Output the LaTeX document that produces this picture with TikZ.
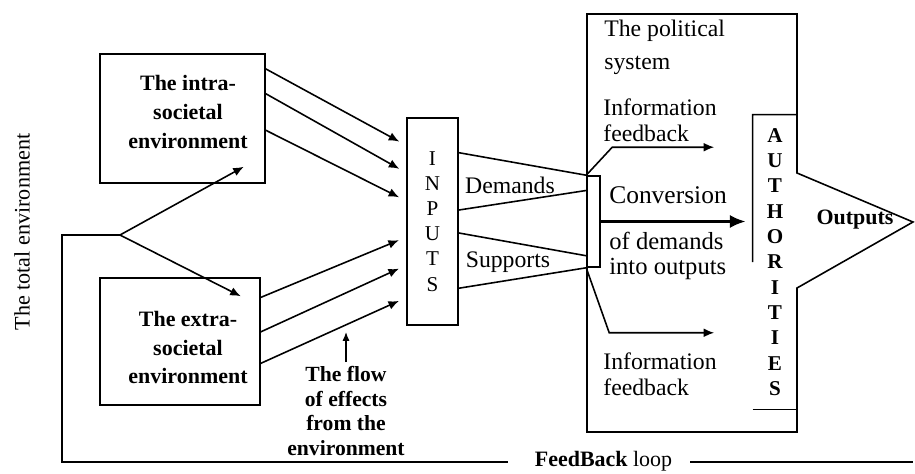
\documentclass[tikz,border=0pt]{standalone}
\usepackage{fontspec}
\setmainfont{Liberation Serif}
\usetikzlibrary{arrows.meta,calc}
\tikzset{
  envbox/.style={draw,line width=0.9pt,inner sep=0pt},
  envtext/.style={align=center,inner sep=0pt,font=\fontsize{12.5}{16.4}\selectfont\bfseries},
  letters/.style={align=center,inner sep=0pt},
  plain/.style={line width=0.9pt},
  effect/.style={line width=0.9pt,-{Latex[length=6pt,width=5pt]}},
  lbl/.style={inner sep=0pt,align=left,font=\fontsize{13.5}{14.8}\selectfont},
}
\begin{document}
\begin{tikzpicture}[x=0.02cm,y=-0.02cm]
\useasboundingbox (0,0) rectangle (915,473);

% Marking the total environment
\node [rotate=90,font=\fontsize{12.6}{14}\selectfont] (total) at (22,232) {The total environment};

% Drawing the two environment boxes
\node [envbox,minimum width=3.3cm,minimum height=2.58cm] (intra) at (182.5,118.5) {};
\node [envtext] (intratext) at (188,112) {The intra-\\societal\\environment};
\node [envbox,minimum width=3.2cm,minimum height=2.54cm] (extra) at (180,341.5) {};
\node [envtext] (extratext) at (188,347.5) {The extra-\\societal\\environment};

% Drawing the inputs box
\node [draw,plain,letters,minimum width=1.02cm,minimum height=4.14cm,font=\fontsize{12}{14.3}\selectfont] (inputs) at (432.5,221.5) {I\\N\\P\\U\\T\\S};

% Drawing flow of effects into the inputs
\foreach \a/\b in {0.12/0.135, 0.31/0.266, 0.59/0.401}
  \draw [effect,shorten >=4.5pt] ($(intra.north east)!\a!(intra.south east)$) -- ($(inputs.north west)!\b!(inputs.south west)$);
\foreach \a/\b in {0.157/0.575, 0.425/0.71, 0.67/0.865}
  \draw [effect,shorten >=4.5pt] ($(extra.north east)!\a!(extra.south east)$) -- ($(inputs.north west)!\b!(inputs.south west)$);

% Drawing the split of the total environment
\coordinate (split) at (120,235);
\draw [effect] (split) -- ($(intra.south east)+(-22,-17)$);
\draw [effect] (split) -- ($(extra.north east)+(-20,19)$);

% Marking the flow of effects
\node [align=center,inner sep=0pt,font=\fontsize{12.3}{14.2}\selectfont\bfseries] (flow) at (346,411) {The flow\\of effects\\from the\\environment};
\draw [line width=0.7pt,-{Latex[length=5pt,width=4pt]}] ([yshift=2pt]flow.north) -- ++(0,-30);

% Drawing the feedback loop
\coordinate (corner) at (62,462);
\coordinate (loopend) at (913,462);
\node [inner sep=0pt,font=\fontsize{12.5}{14}\selectfont] (loop) at (603.5,461) {\textbf{FeedBack} loop};
\draw [plain] (split) -| (corner) -- (corner -| {$(loop.west)+(-27,0)$});
\draw [plain] (loopend -| {$(loop.east)+(18,0)$}) -- (loopend);

% Drawing the political system
\coordinate (outtip) at (913,222);
\draw [plain] (587,14) -- (797,14) -- (797,173) -- (outtip) -- (797,288) -- (797,432) -- (587,432) -- cycle;
\node [lbl,anchor=west,font=\fontsize{13.5}{18.7}\selectfont] (polsys) at (604,47.5) {The political\\system};

% Drawing the conversion box
\node [draw,plain,minimum width=0.26cm,minimum height=1.82cm,inner sep=0pt] (conv) at (593.5,221.5) {};

% Drawing demands and supports
\draw [plain] ($(inputs.north east)!0.17!(inputs.south east)$) -- (conv.north west);
\draw [plain] ($(inputs.north east)!0.445!(inputs.south east)$) -- ($(conv.north west)!0.165!(conv.south west)$);
\draw [plain] ($(inputs.north east)!0.555!(inputs.south east)$) -- ($(conv.north west)!0.87!(conv.south west)$);
\draw [plain] ($(inputs.north east)!0.82!(inputs.south east)$) -- (conv.south west);
\node [lbl] (demands) at (510,185) {Demands};
\node [lbl] (supports) at (508,262) {Supports};

% Drawing the authorities
\node [letters,minimum width=0.88cm,minimum height=5.88cm,font=\fontsize{12}{14.4}\selectfont\bfseries] (auth) at (775,262) {A\\U\\T\\H\\O\\R\\I\\T\\I\\E\\S};
\draw [plain] (auth.north east) -- (auth.north west) -- ($(auth.north west)!0.5!(auth.south west)$);
\draw [plain] (auth.south west) -- (auth.south east);

% Drawing the conversion
\draw [line width=1.5pt,-{Latex[length=9pt,width=7.5pt]},shorten >=4pt] (conv.east) -- (conv.east -| auth.west);
\node [font=\fontsize{14.5}{16}\selectfont] (conversion) at (668,195) {Conversion};
\node [lbl,anchor=west,font=\fontsize{14}{14.2}\selectfont] (demout) at (609,255.5) {of demands\\into outputs};

% Drawing the information feedback
\draw [effect] (conv.north west) -- ++(26,-28) -- ++(102,0);
\draw [effect] (conv.south west) -- ++(23,65) -- ++(105,0);
\node [lbl,anchor=west] (infotop) at (603,120) {Information\\feedback};
\node [lbl,anchor=west] (infobot) at (603,374.5) {Information\\feedback};

% Marking the outputs
\node [font=\fontsize{12.5}{14}\selectfont\bfseries] (outputs) at (855,220) {Outputs};
\end{tikzpicture}
\end{document}
